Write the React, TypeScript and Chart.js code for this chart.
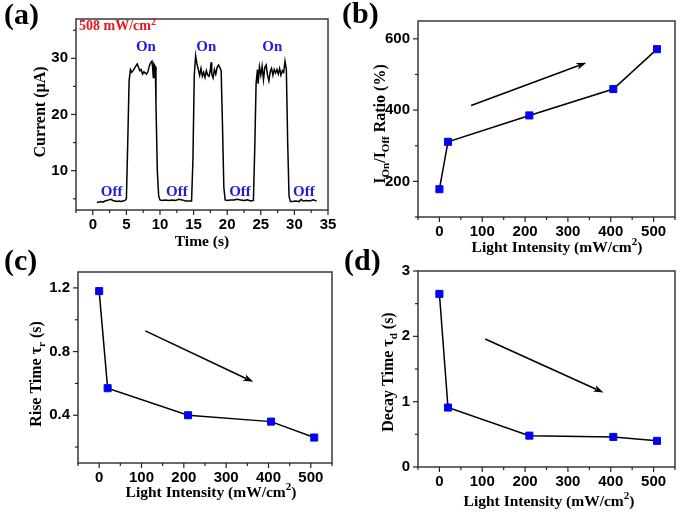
import React, { useEffect, useRef } from 'react';
import { Chart, registerables } from 'chart.js';

Chart.register(...registerables);

const W = 685;
const H = 513;

// ---------- Panel (a): photocurrent vs time ----------
const timeS = [
  0.6, 0.9, 1.2, 1.5, 1.8, 2.1, 2.4, 2.7, 3.0, 3.3, 3.6, 3.9, 4.2, 4.5, 4.8, 5.0,
  5.2, 5.4, 5.6, 5.8, 6.0, 6.2, 6.4, 6.6, 6.8, 7.0, 7.2, 7.4, 7.6, 7.8, 8.0, 8.2, 8.4, 8.6, 8.8, 8.9, 9.0, 9.1, 9.3,
  9.4, 9.6, 9.8, 10.0, 10.3, 10.8, 11.3, 11.8, 12.3, 12.8, 13.3, 13.8, 14.3, 14.7,
  14.9, 15.1, 15.3, 15.5, 15.7, 15.9, 16.1, 16.3, 16.5, 16.7, 16.9, 17.1, 17.3, 17.5, 17.6, 17.7, 17.9, 18.1, 18.3, 18.5, 18.7, 18.9, 19.1,
  19.3, 19.5, 19.7, 20.0, 20.5, 21.0, 21.5, 22.0, 22.5, 23.0, 23.5, 23.9,
  24.1, 24.3, 24.5, 24.6, 24.8, 25.0, 25.2, 25.4, 25.6, 25.8, 26.0, 26.2, 26.4, 26.6, 26.8, 27.0, 27.2, 27.4, 27.6, 27.8, 28.0, 28.2, 28.4, 28.6, 28.8,
  29.0, 29.2, 29.4, 29.7, 30.2, 30.7, 31.0, 31.3, 31.8, 32.3, 32.8, 33.3,
];
const currentUA = [
  4.4, 4.4, 4.5, 4.4, 4.6, 4.7, 4.8, 4.9, 4.7, 4.6, 4.5, 4.6, 4.5, 4.6, 4.7, 5.0,
  15, 26, 28.0, 27.5, 27.8, 28.2, 28.6, 29.0, 28.4, 27.8, 28.0, 27.2, 27.6, 27.4, 27.2, 27.6, 28.6, 29.2, 29.5, 28.4, 26.6, 29.0, 28.5,
  22, 10, 5.5, 4.8, 4.7, 4.8, 4.7, 4.8, 4.7, 4.9, 4.8, 4.6, 4.6, 4.6,
  12, 27, 30.5, 29.0, 28.0, 27.0, 28.2, 26.8, 27.5, 26.6, 27.8, 27.0, 26.8, 28.0, 29.3, 27.2, 26.5, 28.0, 27.2, 28.4, 28.8, 28.4, 27.8,
  18, 7, 4.8, 4.7, 4.8, 4.8, 4.9, 4.8, 4.7, 4.8, 4.6, 4.7,
  14, 25.5, 28.0, 25.5, 28.5, 27.0, 28.6, 26.2, 28.4, 28.8, 27.0, 26.0, 27.6, 28.2, 27.0, 28.0, 27.4, 28.0, 27.2, 28.2, 27.0, 27.8, 27.5, 29.5, 28.0,
  15, 5.5, 4.5, 4.5, 4.6, 4.5, 4.9, 4.6, 4.7, 4.6, 4.8, 4.6,
];
const timeTicks = [0, 5, 10, 15, 20, 25, 30, 35];
const currentTicks = [10, 20, 30];
const onLabelT = [7.9, 16.9, 26.7];
const onLabelI = 32.0;
const offLabelT = [2.8, 12.5, 21.9, 31.4];
const offLabelI = 6.1;

// ---------- Panels (b)-(d): vs light intensity ----------
const intensity = [0, 20, 210, 406, 508];
const onOffRatio = [178, 311, 385, 459, 571];
const riseTime = [1.18, 0.57, 0.4, 0.36, 0.26];
const decayTime = [2.65, 0.91, 0.48, 0.46, 0.4];
const intensityTicks = [0, 100, 200, 300, 400, 500];
const ratioTicks = [200, 400, 600];
const riseTicks = [0.4, 0.8, 1.2];
const decayTicks = [0, 1, 2, 3];

const ratioArrowX = [74, 343];
const ratioArrowY = [413, 533];
const riseArrowX = [109, 364];
const riseArrowY = [0.93, 0.61];
const decayArrowX = [107, 383];
const decayArrowY = [1.96, 1.14];

// ---------- drawing helpers ----------
type Seg = { t: string; s?: 'sub' | 'sup' };
const SERIF = '"Liberation Serif", "Times New Roman", serif';
const SANS = '"Liberation Sans", Arial, sans-serif';

function drawRich(
  ctx: CanvasRenderingContext2D,
  segs: Seg[],
  x: number,
  y: number,
  size: number,
  color: string,
  rotate = false,
  align: 'center' | 'left' = 'center'
) {
  ctx.save();
  ctx.translate(x, y);
  if (rotate) ctx.rotate(-Math.PI / 2);
  const small = Math.round(size * 0.68);
  const fontFor = (s?: string) => `bold ${s ? small : size}px ${SERIF}`;
  let total = 0;
  for (const g of segs) {
    ctx.font = fontFor(g.s);
    total += ctx.measureText(g.t).width;
  }
  let cx = align === 'left' ? 0 : -total / 2;
  ctx.fillStyle = color;
  ctx.textBaseline = 'middle';
  ctx.textAlign = 'left';
  for (const g of segs) {
    ctx.font = fontFor(g.s);
    const dy = g.s === 'sub' ? size * 0.32 : g.s === 'sup' ? -size * 0.35 : 0;
    ctx.fillText(g.t, cx, dy);
    cx += ctx.measureText(g.t).width;
  }
  ctx.restore();
}

interface Note {
  segs: Seg[];
  x: number;
  y: number;
  size: number;
  color: string;
  align?: 'center' | 'left';
}

interface PanelCfg {
  area: [number, number, number, number];
  xRange: [number, number];
  yRange: [number, number];
  xTicks: number[];
  yTicks: number[];
  xMinor: number;
  yMinor: number;
  xTitle: Seg[];
  xTitlePos: [number, number];
  yTitle: Seg[];
  yTitlePos: [number, number];
  tag: string;
  tagPos: [number, number];
  datasets: any[];
  arrow?: { x: number[]; y: number[] };
  notes?: Note[];
}

const lightTitle: Seg[] = [{ t: 'Light Intensity (mW/cm' }, { t: '2', s: 'sup' }, { t: ')' }];

function markerSet(ys: number[]) {
  return {
    data: intensity.map((x, i) => ({ x, y: ys[i] })),
    showLine: true,
    borderColor: '#000',
    borderWidth: 1.5,
    pointStyle: 'rect',
    pointRadius: 5,
    pointBackgroundColor: '#0000ff',
    pointBorderColor: '#0a0ad8',
    pointBorderWidth: 1,
  };
}

const panels: PanelCfg[] = [
  {
    area: [76, 19, 328, 210],
    xRange: [-2.5, 35],
    yRange: [3, 37],
    xTicks: timeTicks,
    yTicks: currentTicks,
    xMinor: 2.5,
    yMinor: 5,
    xTitle: [{ t: 'Time (s)' }],
    xTitlePos: [202, 242],
    yTitle: [{ t: 'Current (\u00B5A)' }],
    yTitlePos: [41, 112],
    tag: '(a)',
    tagPos: [4, 16],
    datasets: [
      {
        data: timeS.map((x, i) => ({ x, y: currentUA[i] })),
        showLine: true,
        borderColor: '#000',
        borderWidth: 1.5,
        pointRadius: 0,
      },
    ],
    notes: [
      { segs: [{ t: '508 mW/cm' }, { t: '2', s: 'sup' }], x: -2.05, y: 35.6, size: 14, color: '#e8141c', align: 'left' },
      ...onLabelT.map((t) => ({ segs: [{ t: 'On' }], x: t, y: onLabelI, size: 15, color: '#1c1ce0' })),
      ...offLabelT.map((t) => ({ segs: [{ t: 'Off' }], x: t, y: offLabelI, size: 15, color: '#1c1ce0' })),
    ],
  },
  {
    area: [418, 21, 675, 217],
    xRange: [-50, 550],
    yRange: [100, 650],
    xTicks: intensityTicks,
    yTicks: ratioTicks,
    xMinor: 50,
    yMinor: 100,
    xTitle: lightTitle,
    xTitlePos: [557, 248],
    yTitle: [{ t: 'I' }, { t: 'On', s: 'sub' }, { t: '/I' }, { t: 'Off', s: 'sub' }, { t: ' Ratio (%)' }],
    yTitlePos: [381, 124],
    tag: '(b)',
    tagPos: [342, 15],
    datasets: [markerSet(onOffRatio)],
    arrow: { x: ratioArrowX, y: ratioArrowY },
  },
  {
    area: [78, 272, 332, 463],
    xRange: [-50, 550],
    yRange: [0.1, 1.3],
    xTicks: intensityTicks,
    yTicks: riseTicks,
    xMinor: 50,
    yMinor: 0.2,
    xTitle: lightTitle,
    xTitlePos: [211, 493],
    yTitle: [{ t: 'Rise Time \u03C4' }, { t: 'r', s: 'sub' }, { t: ' (s)' }],
    yTitlePos: [37, 374],
    tag: '(c)',
    tagPos: [4, 262],
    datasets: [markerSet(riseTime)],
    arrow: { x: riseArrowX, y: riseArrowY },
  },
  {
    area: [418, 271, 675, 467],
    xRange: [-50, 550],
    yRange: [0, 3],
    xTicks: intensityTicks,
    yTicks: decayTicks,
    xMinor: 50,
    yMinor: 0.5,
    xTitle: lightTitle,
    xTitlePos: [549, 502],
    yTitle: [{ t: 'Decay Time \u03C4' }, { t: 'd', s: 'sub' }, { t: ' (s)' }],
    yTitlePos: [389, 372],
    tag: '(d)',
    tagPos: [344, 262],
    datasets: [markerSet(decayTime)],
    arrow: { x: decayArrowX, y: decayArrowY },
  },
];

const Y_W = 40;
const X_H = 30;

function makeDecor(p: PanelCfg) {
  return {
    id: 'decor',
    afterDatasetsDraw(chart: any) {
      const ctx: CanvasRenderingContext2D = chart.ctx;
      const xs = chart.scales.x;
      const ys = chart.scales.y;
      const { left, top, right, bottom } = chart.chartArea;
      ctx.save();
      // arrow
      if (p.arrow) {
        const x0 = xs.getPixelForValue(p.arrow.x[0]);
        const y0 = ys.getPixelForValue(p.arrow.y[0]);
        const x1 = xs.getPixelForValue(p.arrow.x[1]);
        const y1 = ys.getPixelForValue(p.arrow.y[1]);
        const ang = Math.atan2(y1 - y0, x1 - x0);
        const hl = 10;
        const hw = 3.5;
        ctx.strokeStyle = '#000';
        ctx.fillStyle = '#000';
        ctx.lineWidth = 1.6;
        ctx.beginPath();
        ctx.moveTo(x0, y0);
        ctx.lineTo(x1 - Math.cos(ang) * hl * 0.8, y1 - Math.sin(ang) * hl * 0.8);
        ctx.stroke();
        ctx.beginPath();
        ctx.moveTo(x1, y1);
        ctx.lineTo(x1 - Math.cos(ang) * hl - Math.sin(ang) * hw, y1 - Math.sin(ang) * hl + Math.cos(ang) * hw);
        ctx.lineTo(x1 - Math.cos(ang) * hl * 0.75, y1 - Math.sin(ang) * hl * 0.75);
        ctx.lineTo(x1 - Math.cos(ang) * hl + Math.sin(ang) * hw, y1 - Math.sin(ang) * hl - Math.cos(ang) * hw);
        ctx.closePath();
        ctx.fill();
      }
      // box
      ctx.strokeStyle = '#383838';
      ctx.lineWidth = 1.5;
      ctx.strokeRect(left, top, right - left, bottom - top);
      // ticks (outward)
      ctx.strokeStyle = '#222';
      ctx.lineWidth = 1.2;
      const near = (a: number[], v: number) => a.some((t) => Math.abs(t - v) < 1e-6);
      const [xmin, xmax] = p.xRange;
      for (let k = Math.ceil(xmin / p.xMinor - 1e-9); k * p.xMinor <= xmax + 1e-9; k++) {
        const v = k * p.xMinor;
        const px = xs.getPixelForValue(v);
        const len = near(p.xTicks, v) ? 5 : 3;
        ctx.beginPath();
        ctx.moveTo(px, bottom);
        ctx.lineTo(px, bottom + len);
        ctx.stroke();
      }
      const [ymin, ymax] = p.yRange;
      for (let k = Math.ceil(ymin / p.yMinor - 1e-9); k * p.yMinor <= ymax + 1e-9; k++) {
        const v = k * p.yMinor;
        const py = ys.getPixelForValue(v);
        const len = near(p.yTicks, v) ? 5 : 3;
        ctx.beginPath();
        ctx.moveTo(left, py);
        ctx.lineTo(left - len, py);
        ctx.stroke();
      }
      // notes in data coordinates
      for (const n of p.notes || []) {
        drawRich(ctx, n.segs, xs.getPixelForValue(n.x), ys.getPixelForValue(n.y), n.size, n.color, false, n.align || 'center');
      }
      // titles
      drawRich(ctx, p.xTitle, p.xTitlePos[0], p.xTitlePos[1], 15.5, '#000');
      drawRich(ctx, p.yTitle, p.yTitlePos[0], p.yTitlePos[1], 16, '#000', true);
      // panel tag
      ctx.font = `bold 30px ${SERIF}`;
      ctx.fillStyle = '#000';
      ctx.textBaseline = 'middle';
      ctx.textAlign = 'left';
      ctx.fillText(p.tag, p.tagPos[0], p.tagPos[1]);
      ctx.restore();
    },
  };
}

function fmt(v: number) {
  return String(Math.round(v * 1000) / 1000);
}

function Panel({ p }: { p: PanelCfg }) {
  const ref = useRef<HTMLCanvasElement>(null);
  useEffect(() => {
    if (!ref.current) return;
    const [l, t, r, b] = p.area;
    const tickFont = { family: SANS, weight: 'bold' as const, size: 15 };
    const chart = new Chart(ref.current, {
      type: 'scatter',
      data: { datasets: p.datasets },
      options: {
        animation: false,
        responsive: false,
        events: [],
        layout: { padding: { left: l - Y_W, top: t, right: W - r, bottom: H - b - X_H } },
        plugins: { legend: { display: false }, tooltip: { enabled: false } },
        scales: {
          x: {
            type: 'linear',
            min: p.xRange[0],
            max: p.xRange[1],
            grid: { display: false, drawTicks: false },
            border: { display: false },
            ticks: { color: '#000', font: tickFont, padding: 6, maxRotation: 0, callback: (v: any) => fmt(Number(v)) },
            afterBuildTicks: (s: any) => {
              s.ticks = p.xTicks.map((v) => ({ value: v }));
            },
            afterFit: (s: any) => {
              s.height = X_H;
            },
          },
          y: {
            type: 'linear',
            min: p.yRange[0],
            max: p.yRange[1],
            grid: { display: false, drawTicks: false },
            border: { display: false },
            ticks: { color: '#000', font: tickFont, padding: 8, callback: (v: any) => fmt(Number(v)) },
            afterBuildTicks: (s: any) => {
              s.ticks = p.yTicks.map((v) => ({ value: v }));
            },
            afterFit: (s: any) => {
              s.width = Y_W;
            },
          },
        },
      } as any,
      plugins: [makeDecor(p)],
    });
    return () => chart.destroy();
  }, [p]);
  return (
    <canvas
      ref={ref}
      width={W}
      height={H}
      style={{ position: 'absolute', left: 0, top: 0, width: W, height: H }}
    />
  );
}

export default function App() {
  return (
    <div style={{ position: 'absolute', left: 0, top: 0, width: W, height: H, background: '#fff', overflow: 'hidden' }}>
      {panels.map((p, i) => (
        <Panel key={i} p={p} />
      ))}
    </div>
  );
}
